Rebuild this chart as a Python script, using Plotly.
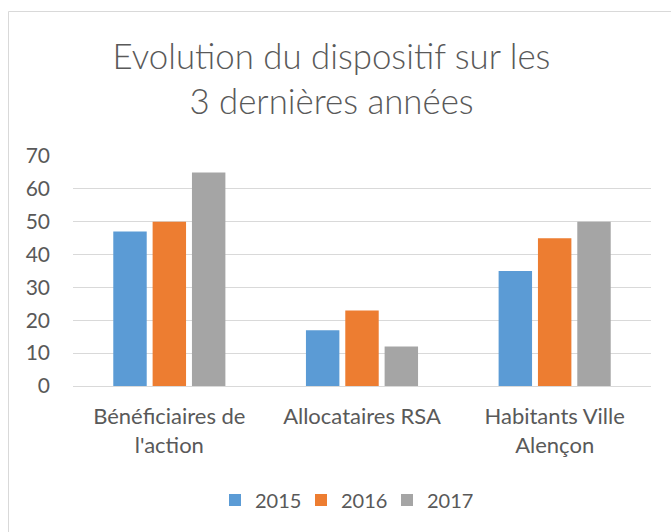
import plotly.graph_objects as go

# Data
categories = ["Bénéficiaires de<br>l'action", "Allocataires RSA", "Habitants Ville<br>Alençon"]
years = ["2015", "2016", "2017"]
values_2015 = [47, 17, 35]
values_2016 = [50, 23, 45]
values_2017 = [65, 12, 50]
colors = ["#5B9BD5", "#ED7D31", "#A5A5A5"]
y_ticks = [0, 10, 20, 30, 40, 50, 60, 70]

W, H = 671, 532
ML, MR, MT, MB = 73, 20, 156, 146
PW, PH = W - ML - MR, H - MT - MB

FONT = "Lato"
TXT = "#595959"
GRID = "#D9D9D9"

fig = go.Figure()
for name, vals, col in zip(years, [values_2015, values_2016, values_2017], colors):
    fig.add_trace(go.Bar(
        x=categories, y=vals, name=name,
        marker=dict(color=col, line=dict(width=0)),
        hoverinfo="x+y+name",
    ))


def px_x(px):
    return (px - ML) / PW


def px_y(py):
    return (H - MB - py) / PH


# Chart-area frame (only top and left edges are inside the view)
frame = dict(type="line", xref="paper", yref="paper",
             line=dict(color=GRID, width=1), layer="below")
fig.add_shape(**frame, x0=px_x(8.5), x1=px_x(W + 2), y0=px_y(11.5), y1=px_y(11.5))
fig.add_shape(**frame, x0=px_x(8.5), x1=px_x(8.5), y0=px_y(11.5), y1=px_y(H + 2))

fig.update_layout(
    width=W, height=H,
    margin=dict(l=ML, r=MR, t=MT, b=MB, pad=0),
    paper_bgcolor="white", plot_bgcolor="white",
    font=dict(family=FONT, color=TXT, size=20),
    title=dict(
        text="Evolution du dispositif sur les<br>3 dernières années",
        font=dict(family=FONT, size=34.8, color=TXT, weight=300),
        xref="paper", x=px_x(331.5), xanchor="center",
        yref="container", y=1 - 69 / H, yanchor="top",
    ),
    barmode="group", bargap=0.3875, bargroupgap=0.15,
    showlegend=True,
    legend=dict(
        orientation="h", xref="paper", x=px_x(344), xanchor="center",
        yref="paper", y=px_y(500), yanchor="middle",
        font=dict(family=FONT, size=20, color=TXT),
        itemwidth=30, entrywidth=41, entrywidthmode="pixels",
        traceorder="normal",
    ),
    xaxis=dict(
        showgrid=False, showline=True, linecolor=GRID, linewidth=1,
        ticks="", tickfont=dict(family=FONT, size=22, color=TXT),
        ticklabelstandoff=11, fixedrange=True,
    ),
    yaxis=dict(
        range=[0, 70], tickvals=y_ticks, showgrid=True, gridcolor=GRID,
        gridwidth=1, zeroline=False, showline=False, ticks="",
        tickfont=dict(family=FONT, size=21, color=TXT),
        ticklabelstandoff=22, fixedrange=True,
    ),
)

fig.write_html("out.html")
